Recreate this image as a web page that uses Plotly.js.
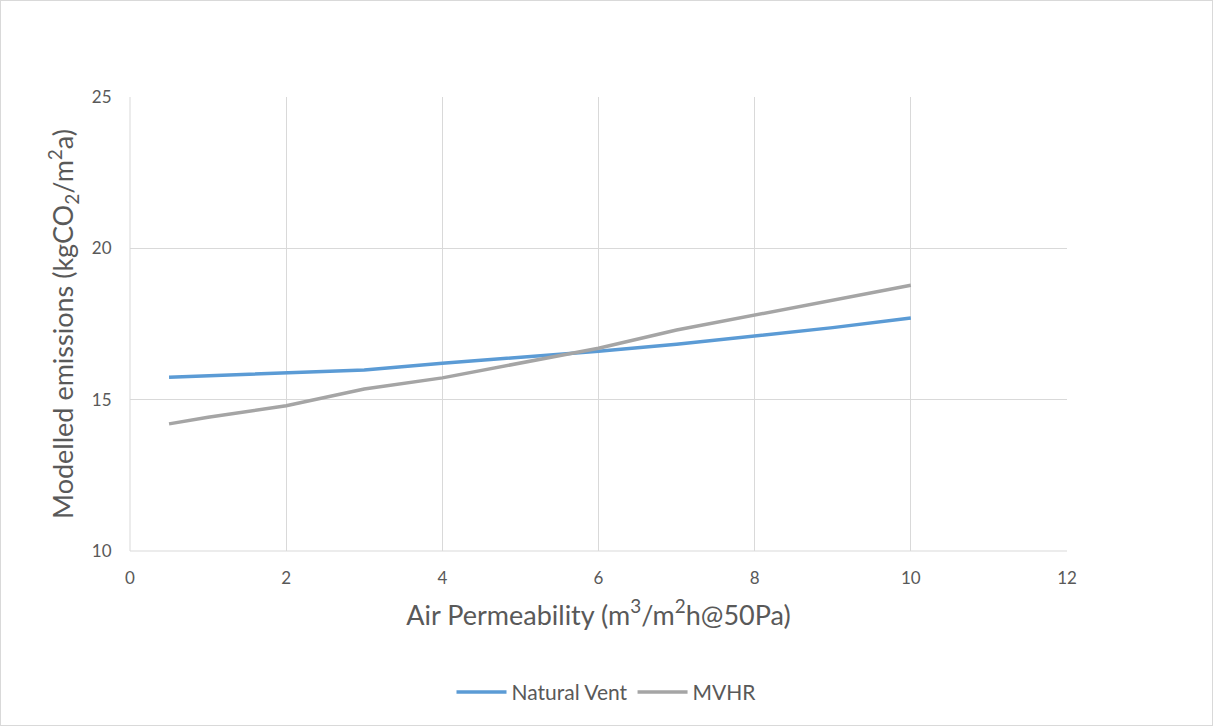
<!DOCTYPE html>
<html>
<head>
<meta charset="utf-8">
<script src="https://cdn.plot.ly/plotly-3.0.1.min.js"></script>
<style>
html,body{margin:0;padding:0;background:#fff;}
#chart{width:1213px;height:726px;box-sizing:border-box;border:1px solid #d9d9d9;}
</style>
</head>
<body>
<div id="chart"></div>
<script>
const airPermeability = [0.5, 1, 2, 3, 4, 5, 6, 7, 8, 9, 10];
const naturalVent = [15.74, 15.79, 15.88, 15.98, 16.2, 16.4, 16.6, 16.83, 17.1, 17.38, 17.7];
const mvhr = [14.2, 14.42, 14.8, 15.35, 15.72, 16.22, 16.7, 17.3, 17.8, 18.3, 18.78];
const seriesNames = ["Natural Vent", "MVHR"];
const xTicks = [0, 2, 4, 6, 8, 10, 12];
const yTicks = [10, 15, 20, 25];

const font = "Lato, 'Open Sans', sans-serif";
const traces = [
  {x: airPermeability, y: naturalVent, name: seriesNames[0], mode: "lines",
   line: {color: "#5b9bd5", width: 3.5}},
  {x: airPermeability, y: mvhr, name: seriesNames[1], mode: "lines",
   line: {color: "#a5a5a5", width: 3.5}}
];
const layout = {
  width: 1211, height: 724,
  margin: {l: 129, r: 145, t: 96, b: 174},
  paper_bgcolor: "#fff", plot_bgcolor: "#fff",
  font: {family: font, color: "#595959", size: 17},
  xaxis: {
    range: [0, 12], tickvals: xTicks, ticktext: xTicks.map(String),
    showgrid: true, gridcolor: "#d9d9d9", gridwidth: 1,
    zeroline: false, showline: false, automargin: false,
    ticks: "outside", ticklen: 12, tickcolor: "rgba(0,0,0,0)",
    tickfont: {size: 17, color: "#595959"},
    title: {text: "Air Permeability (m<sup>3</sup>/m<sup>2</sup>h@50Pa)", font: {size: 27, color: "#595959"}, standoff: 18}
  },
  yaxis: {
    range: [10, 25], tickvals: yTicks, ticktext: yTicks.map(String),
    showgrid: true, gridcolor: "#d9d9d9", gridwidth: 1,
    zeroline: false, showline: false, automargin: false,
    ticks: "outside", ticklen: 14, tickcolor: "rgba(0,0,0,0)",
    tickfont: {size: 17, color: "#595959"},
    title: {text: "Modelled emissions (kgCO<sub>2</sub>/m<sup>2</sup>a)", font: {size: 27, color: "#595959"}, standoff: 10}
  },
  showlegend: true,
  legend: {orientation: "h", x: 0.5, xref: "container", xanchor: "center",
    y: 0.045, yref: "container", yanchor: "middle",
    font: {size: 21, color: "#595959"}, itemwidth: 50},
  shapes: [
    {type: "line", xref: "paper", yref: "paper", x0: 0, x1: 1, y0: 0, y1: 0, line: {color: "#d9d9d9", width: 1}},
    {type: "line", xref: "paper", yref: "paper", x0: 0, x1: 0, y0: 0, y1: 1, line: {color: "#d9d9d9", width: 1}}
  ]
};
Plotly.newPlot("chart", traces, layout, {displayModeBar: false, staticPlot: true});
</script>
</body>
</html>
